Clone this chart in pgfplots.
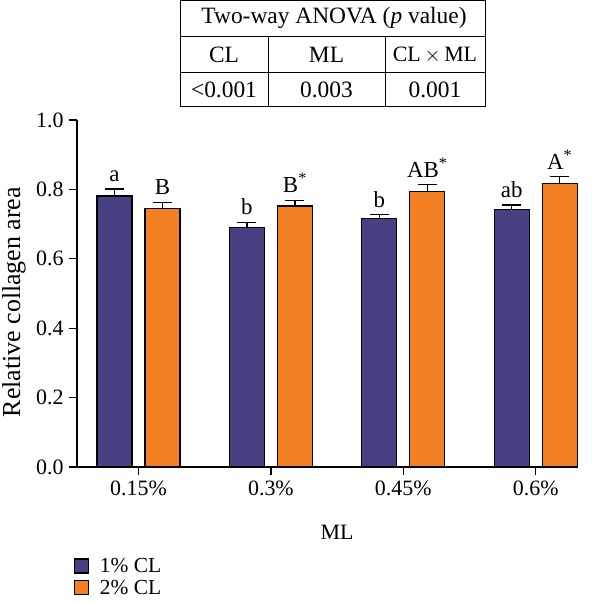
\documentclass[border=0pt]{standalone}
\usepackage{pgfplots}
\pgfplotsset{compat=1.18}
\usepackage{fontspec}
\setmainfont{Liberation Serif}
\definecolor{cpurple}{RGB}{71,64,130}
\definecolor{corange}{RGB}{242,128,34}
\pgfplotsset{sqlegend/.style={legend image code/.code={\draw[##1, line width=1.2bp] (0bp,-7bp) rectangle (14bp,7bp);}}}
\pgfplotstableread{
x y e
0 0.781 0.020
1 0.690 0.015
2 0.716 0.011
3 0.743 0.012
}\onecl
\pgfplotstableread{
x y e
0 0.745 0.018
1 0.752 0.017
2 0.793 0.020
3 0.816 0.021
}\twocl
\begin{document}
\begin{tikzpicture}[x=1bp,y=1bp]
\path[use as bounding box] (0,0) rectangle (600,602);
% ANOVA table
\begin{scope}[line width=1bp]
\draw (180,601) rectangle (485,495.3);
\draw (180,565.3) -- (485,565.3);
\draw (180,529.3) -- (485,529.3);
\draw (268,565.3) -- (268,495.3);
\draw (385,565.3) -- (385,495.3);
\end{scope}
\begin{scope}[font=\fontsize{23.5}{27}\selectfont]
\node at (334,584) {Two-way ANOVA (\textit{p} value)};
\node at (224,547) {CL};
\node at (326.5,547) {ML};
\node[font=\fontsize{22}{26}\selectfont] at (435,547) {CL\,$\times$\,ML};
\node at (224,512) {<0.001};
\node at (326.5,512) {0.003};
\node at (435,512) {0.001};
\end{scope}
\begin{axis}[
  scale only axis,
  width=500bp, height=347bp,
  at={(77bp,135bp)}, anchor=south west,
  xmin=-0.4645, xmax=3.312,
  ymin=0, ymax=1.0,
  axis x line*=bottom, axis y line*=left,
  axis line style={line width=1.2bp, -},
  every tick/.style={line width=1.2bp, black},
  tick align=outside,
  major tick length=8bp,
  xtick={0,1,2,3},
  xticklabels={0.15\%,0.3\%,0.45\%,0.6\%},
  ytick={0,0.2,0.4,0.6,0.8,1.0},
  yticklabel style={xshift=-2bp, /pgf/number format/fixed, /pgf/number format/fixed zerofill, /pgf/number format/precision=1},
  /pgf/number format/assume math mode=true,
  tick label style={font=\fontsize{22}{26}\selectfont},
  xticklabel style={yshift=-2bp},
  xlabel={ML},
  xlabel style={font=\fontsize{22}{26}\selectfont, at={(axis description cs:0.52,0)}, anchor=center, yshift=-65bp},
  ylabel={Relative collagen area},
  ylabel style={font=\fontsize{26}{30}\selectfont, at={(axis description cs:0,0.475)}, anchor=center, yshift=63bp},
  ybar=13bp,
  bar width=35bp,
  clip=false,
  legend style={draw=none, fill=none, at={(axis description cs:0,0)}, anchor=north west,
    yshift=-90bp, xshift=-3bp, font=\fontsize{21.5}{25}\selectfont, row sep=4bp,
    inner sep=0pt, nodes={inner sep=1bp},
    /tikz/every odd column/.append style={column sep=9.5bp}},
  legend cell align=left,
]
\addplot[fill=cpurple, draw=black, line width=1.2bp, sqlegend,
  error bars/.cd, y dir=plus, y explicit,
  error bar style={line width=1.2bp, black},
  error mark options={rotate=90, mark size=9.5bp, line width=1.2bp, black}]
  table[x=x, y=y, y error=e] {\onecl};
\addlegendentry{1\% CL}
\addplot[fill=corange, draw=black, line width=1.2bp, sqlegend,
  error bars/.cd, y dir=plus, y explicit,
  error bar style={line width=1.2bp, black},
  error mark options={rotate=90, mark size=9.5bp, line width=1.2bp, black}]
  table[x=x, y=y, y error=e] {\twocl};
\addlegendentry{2\% CL}
\begin{scope}[every node/.style={anchor=south, inner sep=0pt, yshift=7bp, font=\fontsize{23}{27}\selectfont}]
\node at (axis cs:-0.181,0.801) {a};
\node at (axis cs:0.181,0.763) {B};
\node at (axis cs:0.819,0.705) {b};
\node at (axis cs:1.181,0.769) {B\textsuperscript{*}};
\node at (axis cs:1.819,0.727) {b};
\node at (axis cs:2.181,0.813) {AB\textsuperscript{*}};
\node at (axis cs:2.819,0.755) {ab};
\node at (axis cs:3.181,0.837) {A\textsuperscript{*}};
\end{scope}
\end{axis}
\end{tikzpicture}
\end{document}
